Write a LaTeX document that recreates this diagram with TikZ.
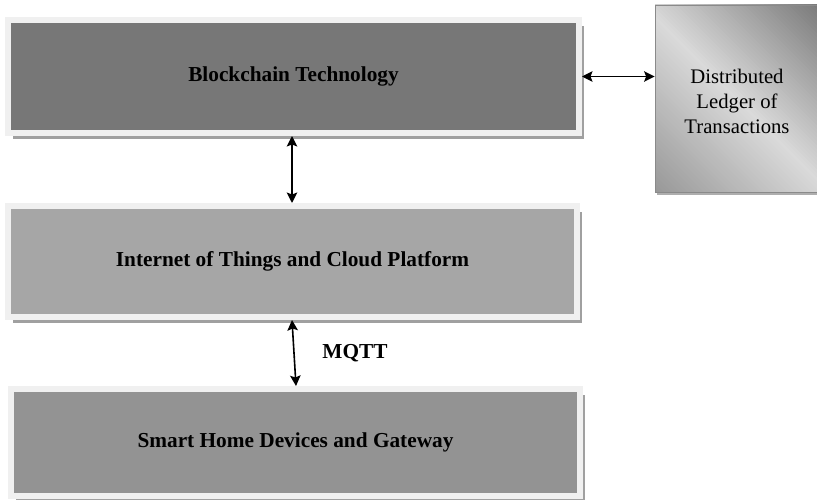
\documentclass[tikz,border=0pt]{standalone}
\usepackage{fontspec}
\setmainfont{Liberation Serif}
\usetikzlibrary{arrows.meta,shadows}
\definecolor{frameC}{HTML}{F0F0F0}
\definecolor{shadowC}{HTML}{A0A0A0}
\definecolor{boxA}{HTML}{777777}
\definecolor{boxB}{HTML}{A6A6A6}
\definecolor{boxC}{HTML}{939393}
\definecolor{ledDark}{HTML}{7A7A7A}
\definecolor{ledLight}{HTML}{DADADA}
\definecolor{ledBorder}{HTML}{8A8A8A}
\tikzset{
  layerbox/.style={draw=frameC, line width=6pt, inner sep=0pt,
    font=\fontsize{21.3}{25}\selectfont\bfseries,
    drop shadow={shadow xshift=5pt, shadow yshift=-6pt, fill=shadowC, opacity=1}},
  ledgerbox/.style={draw=ledBorder, line width=0.8pt, inner sep=0pt,
    align=center, font=\fontsize{20.7}{25}\selectfont},
  arr/.style={line width=1.6pt, {Stealth[length=10.5pt,width=10.5pt,inset=2pt]}-{Stealth[length=10.5pt,width=10.5pt,inset=2pt]}},
  lbl/.style={font=\fontsize{21.3}{25}\selectfont\bfseries, inner sep=0pt}
}
\begin{document}
\begin{tikzpicture}[x=1pt,y=-1pt]
\useasboundingbox[fill=white] (0,0) rectangle (817,500);
\node[layerbox, fill=boxA, minimum width=571pt, minimum height=113pt] (b1) at (293.5,76.5) {Blockchain Technology};
\node[layerbox, fill=boxB, minimum width=569pt, minimum height=111pt] (b2) at (292.5,261.5) {Internet of Things and Cloud Platform};
\node[layerbox, fill=boxC, minimum width=569pt, minimum height=107pt] (b3) at (295.5,442.5) {Smart Home Devices and Gateway};
\fill[shadowC!85] (657,8) rectangle (823,195.5);
\begin{scope}
\clip (655,5) rectangle (821,192);
\foreach \c in {-180,-176,...,180}{
  \pgfmathsetmacro{\p}{\c<0 ? 100*(1+\c/176.5) : 100-70*\c/176.5}
  \pgfmathsetmacro{\p}{max(0,min(100,\p))}
  \fill[ledLight!\p!ledDark]
    (640,{640+\c-639.5}) -- (840,{840+\c-639.5}) --
    (840,{840+\c+4.6-639.5}) -- (640,{640+\c+4.6-639.5}) -- cycle;
}
\end{scope}
\node[ledgerbox, minimum width=166pt, minimum height=187pt] (led) at (738,98.5) {};
\node[ledgerbox, draw=none] (ledtxt) at (737,101) {Distributed\\Ledger of\\Transactions};
\coordinate (ax) at (292,0);
\coordinate (m1) at (292,0);
\coordinate (m2) at (296,0);
\draw[arr] (b1.south -| ax) -- (b2.north -| ax);
\draw[arr] (b2.south -| m1) -- (b3.north -| m2);
\draw[arr] (b1.east) -- (b1.east -| led.west);
\node[lbl] (mqtt) at (355,353) {MQTT};
\end{tikzpicture}
\end{document}
